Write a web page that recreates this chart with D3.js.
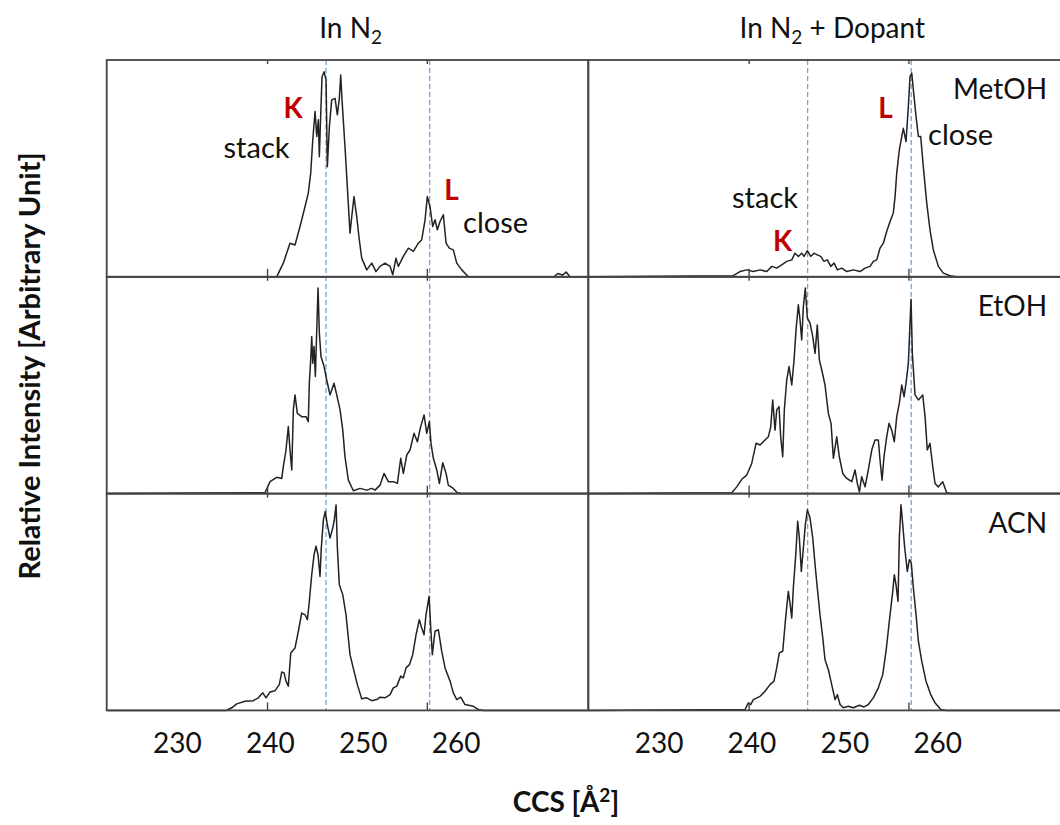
<!DOCTYPE html>
<html>
<head>
<meta charset="utf-8">
<script src="https://cdn.jsdelivr.net/npm/d3@7"></script>
<style>
  body { margin: 0; background: #fff; }
</style>
</head>
<body>
<div id="chart"></div>
<script>
const width = 1060;
const height = 825;
const margin = { top: 60, left: 106.7 };
const panelWidth = 481.6;
const rowHeight = 216.8;

const columnTitles = ["In N", "In N"];
const columnSuffix = ["", " + Dopant"];
const solvents = ["MetOH", "EtOH", "ACN"];
const tickValues = [230, 240, 250, 260];
const innerTicks = [239.7, 256.9];
const refLines = [246.05, 257.2]; // K stack, L close
const ccsDomain = [222.44, 274.28];

// [CCS, relative intensity %]
const n2MetOH = [[222.5,0],[240.74,0],[241.45,6.3],[242.17,15.5],[242.71,14.7],[243.25,23.2],[243.79,32.4],[244.14,38.6],[244.40,47.8],[244.62,63.1],[244.87,76.2],[245.05,64.7],[245.22,72.4],[245.33,55.4],[245.48,75.4],[245.62,92.3],[245.84,94.6],[246.05,90.8],[246.19,50.8],[246.41,69.3],[246.66,81.6],[247.02,82.3],[247.27,74.7],[247.48,82.3],[247.63,93.1],[247.77,81.6],[248.09,60.0],[248.34,41.6],[248.63,20.1],[248.82,27.8],[249.06,37.0],[249.35,27.8],[249.63,17.1],[249.89,8.6],[250.43,3.2],[250.97,6.3],[251.43,2.4],[251.86,4.8],[252.40,6.3],[252.94,4.8],[253.23,0.9],[253.58,8.6],[253.83,4.8],[254.37,9.4],[254.91,13.2],[255.45,11.7],[255.99,15.5],[256.35,17.1],[256.71,26.3],[256.95,37.0],[257.24,32.4],[257.53,23.2],[257.78,26.3],[258.03,21.7],[258.32,25.5],[258.68,28.6],[258.97,15.5],[259.32,13.2],[259.75,12.4],[260.12,6.3],[260.66,3.2],[261.37,0],[270.6,0],[271.0,1.5],[271.5,0.8],[271.9,2.2],[272.3,0],[274.2,0]];

const dopMetOH = [[222.5,0],[238.05,0.5],[238.77,2.4],[239.49,3.2],[240.20,2.4],[240.93,3.2],[241.65,2.4],[242.19,4.8],[242.72,4.0],[243.26,5.5],[243.80,7.1],[244.34,7.8],[244.69,10.9],[245.05,9.4],[245.41,10.9],[245.66,9.4],[246.02,12.1],[246.38,9.4],[246.74,10.9],[247.09,10.1],[247.46,9.4],[247.81,7.1],[248.17,7.8],[248.54,4.8],[248.90,6.3],[249.25,3.2],[249.72,4.0],[250.26,2.4],[250.97,3.2],[251.69,2.4],[252.23,4.0],[252.77,4.8],[253.12,7.1],[253.49,7.8],[253.84,13.2],[254.20,15.5],[254.56,20.9],[254.92,25.5],[255.27,29.4],[255.46,37.0],[255.64,47.8],[255.92,58.5],[256.18,64.7],[256.35,68.5],[256.64,62.4],[256.89,78.5],[257.07,92.3],[257.26,93.9],[257.43,86.2],[257.72,73.9],[257.97,64.7],[258.22,64.7],[258.50,50.8],[258.87,34.0],[259.22,21.7],[259.58,12.4],[260.12,4.8],[260.66,1.7],[261.38,0.5],[262.0,0],[274.2,0]];

const n2EtOH = [[222.5,0],[239.48,0.4],[240.02,5.5],[240.74,7.5],[241.28,7.0],[241.45,12.4],[241.74,20.1],[241.99,30.9],[242.17,20.1],[242.36,10.9],[242.53,38.6],[242.71,45.5],[242.96,37.0],[243.43,35.5],[243.90,35.5],[244.14,33.2],[244.25,50.9],[244.40,61.7],[244.51,72.4],[244.62,60.1],[244.76,67.8],[244.90,54.0],[245.05,75.5],[245.19,94.8],[245.33,74.0],[245.51,63.2],[245.84,58.6],[246.12,52.4],[246.48,45.5],[246.91,50.9],[247.20,45.5],[247.56,38.6],[247.85,29.3],[248.09,17.0],[248.45,6.2],[248.99,1.3],[249.71,2.4],[250.43,1.6],[250.97,2.4],[251.32,1.6],[251.86,3.9],[252.29,9.3],[252.76,5.5],[253.29,5.5],[253.73,4.7],[254.09,16.3],[254.37,9.3],[254.74,17.8],[255.09,20.1],[255.52,27.8],[255.88,23.9],[256.24,30.9],[256.60,36.3],[256.89,27.8],[257.17,33.2],[257.35,23.2],[257.60,16.3],[257.97,10.9],[258.25,4.7],[258.61,14.2],[258.97,9.3],[259.21,3.9],[259.75,2.4],[260.18,0.4],[260.6,0],[274.2,0]];

const dopEtOH = [[222.5,0],[237.88,0.4],[238.42,3.1],[238.96,6.6],[239.49,8.5],[240.03,13.9],[240.50,23.2],[240.93,22.4],[241.46,24.7],[241.82,26.2],[242.08,30.9],[242.29,43.2],[242.54,29.3],[242.72,38.6],[242.97,40.1],[243.15,26.2],[243.37,17.0],[243.54,38.6],[243.80,52.4],[244.05,58.6],[244.34,50.1],[244.59,61.7],[244.80,75.5],[245.05,87.1],[245.23,80.1],[245.41,70.9],[245.59,86.3],[245.80,94.8],[246.02,80.9],[246.31,78.6],[246.60,72.4],[246.85,64.7],[247.09,77.8],[247.31,61.7],[247.57,57.0],[247.92,50.1],[248.28,37.0],[248.57,32.4],[248.82,16.3],[249.18,26.2],[249.46,17.0],[249.83,9.3],[250.26,7.0],[250.80,5.5],[251.15,10.9],[251.40,4.7],[251.62,0.8],[251.87,7.8],[252.23,3.1],[252.58,10.9],[252.95,20.1],[253.30,24.7],[253.66,24.7],[253.84,15.5],[254.06,6.2],[254.27,17.0],[254.56,26.2],[254.81,32.4],[255.10,29.3],[255.38,23.9],[255.64,35.5],[255.92,41.7],[256.18,50.1],[256.43,44.7],[256.64,50.9],[256.89,60.1],[257.07,78.6],[257.18,89.7],[257.32,64.7],[257.61,45.5],[257.97,43.2],[258.44,45.5],[258.69,35.5],[258.93,20.1],[259.22,23.2],[259.52,12.4],[259.76,4.7],[260.12,3.1],[260.59,5.5],[261.02,0.4],[261.5,0],[274.2,0]];

const n2ACN = [[222.5,0],[235.3,0],[235.90,1.2],[236.44,3.0],[237.33,4.2],[238.22,4.5],[238.76,5.8],[239.24,8.1],[239.59,5.8],[240.02,8.5],[240.56,9.1],[241.02,11.9],[241.28,17.7],[241.53,17.3],[241.74,13.5],[241.99,11.2],[242.25,26.5],[242.71,28.8],[243.07,36.5],[243.43,44.9],[243.79,44.1],[244.04,41.8],[244.25,50.3],[244.51,62.6],[244.76,71.8],[244.97,75.7],[245.19,71.8],[245.40,61.8],[245.54,74.9],[245.76,87.9],[245.97,91.8],[246.19,85.6],[246.48,79.5],[246.77,84.1],[246.94,87.9],[247.13,94.8],[247.27,74.9],[247.48,58.0],[247.85,53.4],[248.20,44.1],[248.63,25.7],[249.06,18.1],[249.42,11.9],[249.89,5.4],[250.43,5.8],[250.97,4.5],[251.51,5.0],[251.86,6.1],[252.40,5.8],[252.94,7.3],[253.29,10.4],[253.66,11.2],[254.09,15.8],[254.37,15.0],[254.66,19.6],[255.02,21.1],[255.38,25.7],[255.74,34.9],[256.09,41.8],[256.35,38.0],[256.60,34.9],[256.81,44.1],[257.14,52.6],[257.32,38.0],[257.49,25.7],[257.78,36.5],[258.14,37.2],[258.50,27.3],[258.86,19.6],[259.40,13.5],[259.75,8.1],[260.12,5.0],[260.55,6.1],[261.01,2.7],[261.91,1.9],[262.44,0.4],[263.0,0],[274.2,0]];

const dopACN = [[222.5,0],[239.31,0.4],[239.67,3.5],[239.92,2.7],[240.20,5.0],[240.93,6.5],[241.46,8.8],[242.00,11.9],[242.43,13.5],[242.72,19.6],[243.00,26.5],[243.37,27.3],[243.65,41.1],[243.97,54.9],[244.15,49.5],[244.34,42.6],[244.51,56.5],[244.77,71.8],[244.98,87.2],[245.16,79.5],[245.37,64.1],[245.59,74.9],[245.80,85.6],[246.02,92.5],[246.31,88.7],[246.60,79.5],[246.85,67.2],[247.09,56.5],[247.38,44.1],[247.68,33.4],[247.92,23.4],[248.28,18.8],[248.64,11.9],[249.00,5.0],[249.25,7.3],[249.54,2.7],[249.89,1.2],[250.43,1.9],[250.97,1.2],[251.61,2.4],[252.12,1.6],[252.58,2.7],[253.12,5.8],[253.66,10.4],[254.13,16.5],[254.49,27.3],[254.84,41.1],[255.21,54.9],[255.38,62.6],[255.56,58.0],[255.78,50.3],[255.92,79.5],[256.10,94.8],[256.29,85.6],[256.50,74.9],[256.78,64.1],[257.00,69.5],[257.21,68.0],[257.43,56.5],[257.72,44.1],[257.97,31.9],[258.33,22.7],[258.79,13.5],[259.30,7.3],[259.76,3.5],[260.38,0.4],[261.0,0],[274.2,0]];

const seriesGrid = [
  [n2MetOH, dopMetOH],
  [n2EtOH, dopEtOH],
  [n2ACN, dopACN]
];

// text marks: [row, col, text, CCS, intensity, kind]
const annotations = [
  [0, 0, "K", 242.5, 73.3, "peak"],
  [0, 0, "stack", 238.57, 54.8, "note"],
  [0, 0, "L", 259.56, 35.5, "peak"],
  [0, 0, "close", 264.3, 20.3, "note"],
  [0, 1, "L", 254.43, 73.3, "peak"],
  [0, 1, "close", 262.51, 60.8, "note"],
  [0, 1, "stack", 241.46, 31.8, "note"],
  [0, 1, "K", 243.35, 12.0, "peak"]
];
const solventLabelCCS = 271.82;
const solventLabelLevel = 81.8;

const font = "Lato, 'Open Sans', sans-serif";
const lineColor = "#222";
const frameColor = "#444";
const refColor = "#6aa5dc";
const peakColor = "#c00000";

const svg = d3.select("#chart")
  .append("svg")
  .attr("width", width)
  .attr("height", height)
  .style("font-family", font);

const colX = (c) => margin.left + c * panelWidth;
const rowTop = (r) => margin.top + r * rowHeight;
const bottom = rowTop(3);

[0, 1].forEach((c) => {
  const x = d3.scaleLinear().domain(ccsDomain).range([colX(c), colX(c) + panelWidth]);

  // dashed reference lines through all rows
  svg.append("g")
    .selectAll("line")
    .data(refLines)
    .join("line")
    .attr("x1", (d) => x(d))
    .attr("x2", (d) => x(d))
    .attr("y1", margin.top)
    .attr("y2", bottom)
    .attr("stroke", refColor)
    .attr("stroke-width", 1.3)
    .attr("stroke-dasharray", "5,3");

  // column title
  const title = svg.append("text")
    .attr("x", x(248.7))
    .attr("y", 38)
    .attr("text-anchor", "middle")
    .attr("font-size", 28)
    .attr("fill", "#111");
  title.append("tspan").text(columnTitles[c]);
  title.append("tspan").attr("font-size", 19).attr("dy", 6).text("2");
  title.append("tspan").attr("dy", -6).text(columnSuffix[c]);

  // tick labels under the bottom row
  const labelAxis = svg.append("g")
    .attr("transform", `translate(0,753)`)
    .call(d3.axisBottom(x).tickValues(tickValues).tickSize(0).tickPadding(0));
  labelAxis.select(".domain").remove();
  labelAxis.selectAll("text")
    .attr("dy", 0)
    .attr("font-family", font)
    .attr("font-size", 28)
    .attr("fill", "#111");

  seriesGrid.forEach((rowSeries, r) => {
    const y = d3.scaleLinear().domain([0, 100]).range([rowTop(r) + rowHeight, rowTop(r)]);

    const line = d3.line()
      .x((d) => x(d[0]))
      .y((d) => y(d[1]));

    svg.append("path")
      .datum(rowSeries[c])
      .attr("d", line)
      .attr("fill", "none")
      .attr("stroke", lineColor)
      .attr("stroke-width", 1.5)
      .attr("stroke-linejoin", "round");

    // small inner ticks, bottom and top
    const bAxis = svg.append("g")
      .attr("transform", `translate(0,${rowTop(r) + rowHeight})`)
      .call(d3.axisBottom(x).tickValues(innerTicks).tickSize(-8).tickFormat(""));
    const tAxis = svg.append("g")
      .attr("transform", `translate(0,${rowTop(r)})`)
      .call(d3.axisTop(x).tickValues(innerTicks).tickSize(-4).tickFormat(""));
    [bAxis, tAxis].forEach((a) => {
      a.select(".domain").remove();
      a.selectAll("line").attr("stroke", frameColor).attr("stroke-width", 1.4);
    });

    // panel frame
    svg.append("rect")
      .attr("x", colX(c))
      .attr("y", rowTop(r))
      .attr("width", panelWidth)
      .attr("height", rowHeight)
      .attr("fill", "none")
      .attr("stroke", frameColor)
      .attr("stroke-width", 1.8);

    if (c === 1) {
      svg.append("text")
        .attr("x", x(solventLabelCCS))
        .attr("y", y(solventLabelLevel))
        .attr("text-anchor", "end")
        .attr("font-size", 28)
        .attr("fill", "#111")
        .text(solvents[r]);
    }

    svg.append("g")
      .selectAll("text")
      .data(annotations.filter((a) => a[0] === r && a[1] === c))
      .join("text")
      .attr("x", (d) => x(d[3]))
      .attr("y", (d) => y(d[4]))
      .attr("text-anchor", "middle")
      .attr("font-size", (d) => (d[5] === "peak" ? 28 : 29))
      .attr("font-weight", (d) => (d[5] === "peak" ? "bold" : "normal"))
      .attr("fill", (d) => (d[5] === "peak" ? peakColor : "#111"))
      .text((d) => d[2]);
  });
});

// axis titles
svg.append("text")
  .attr("transform", `translate(40,${366}) rotate(-90)`)
  .attr("text-anchor", "middle")
  .attr("font-size", 29)
  .attr("font-weight", "bold")
  .attr("fill", "#111")
  .text("Relative Intensity [Arbitrary Unit]");

const xTitle = svg.append("text")
  .attr("x", 566)
  .attr("y", 812)
  .attr("text-anchor", "middle")
  .attr("font-size", 28)
  .attr("font-weight", "bold")
  .attr("fill", "#111");
xTitle.append("tspan").text("CCS [Å");
xTitle.append("tspan").attr("font-size", 19).attr("dy", -10).text("2");
xTitle.append("tspan").attr("dy", 10).text("]");
</script>
</body>
</html>
